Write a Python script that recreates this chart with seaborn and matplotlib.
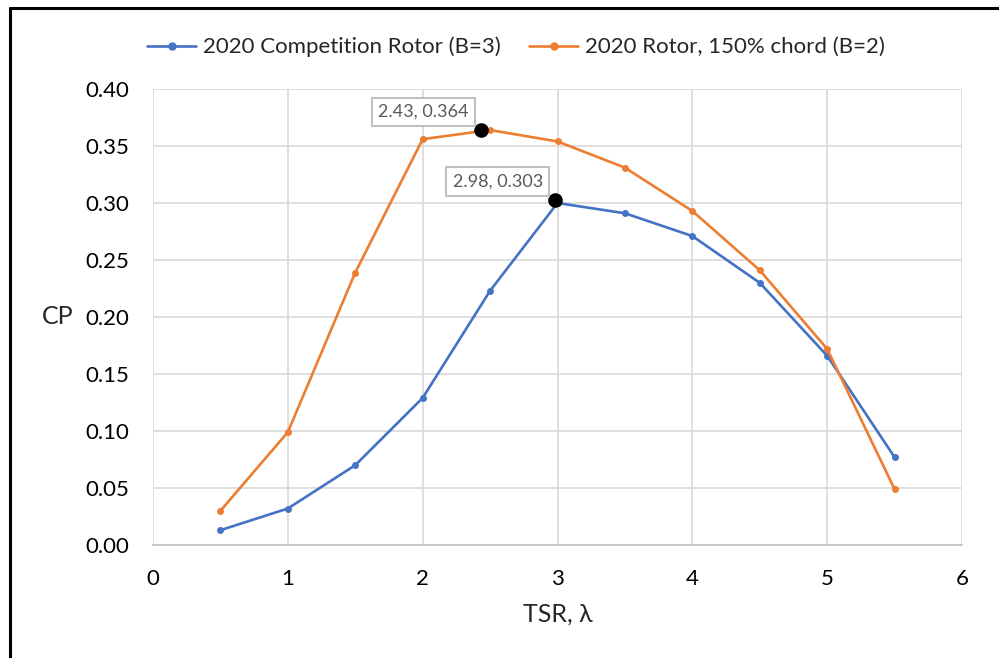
import matplotlib
matplotlib.use("Agg")
import matplotlib.pyplot as plt
import seaborn as sns
import pandas as pd
from matplotlib.lines import Line2D

tsr = [0.5, 1.0, 1.5, 2.0, 2.5, 3.0, 3.5, 4.0, 4.5, 5.0, 5.5]
cp_b3 = [0.013, 0.032, 0.070, 0.129, 0.223, 0.300, 0.291, 0.271, 0.230, 0.166, 0.077]
cp_b2 = [0.030, 0.099, 0.239, 0.356, 0.364, 0.354, 0.331, 0.293, 0.241, 0.172, 0.049]
series_names = ["2020 Competition Rotor (B=3)", "2020 Rotor, 150% chord (B=2)"]
colors = ["#4472C4", "#ED7D31"]
peak_x = [2.43, 2.98]
peak_y = [0.364, 0.303]
peak_labels = ["2.43, 0.364", "2.98, 0.303"]
xticks = [0, 1, 2, 3, 4, 5, 6]
yticks = [0.00, 0.05, 0.10, 0.15, 0.20, 0.25, 0.30, 0.35, 0.40]

sns.set_theme(style="white")
plt.rcParams['font.family'] = ['Lato', 'DejaVu Sans']

df = pd.DataFrame({
    "TSR": tsr * 2,
    "CP": cp_b3 + cp_b2,
    "Series": [series_names[0]] * len(tsr) + [series_names[1]] * len(tsr),
})

fig = plt.figure(figsize=(9.99, 6.58), dpi=100)
ax = fig.add_axes([153/999, 1-545/658, (962-153)/999, (545-89)/658])

sns.lineplot(data=df, x="TSR", y="CP", hue="Series", palette=colors,
             marker="o", markersize=5, markeredgewidth=0, linewidth=1.9,
             ax=ax, legend=False, sort=False)

ax.plot(peak_x, peak_y, "o", color="black", markersize=9.5, zorder=5)
for px, py, lab in zip(peak_x, peak_y, peak_labels):
    ax.annotate(lab, (px, py), xytext=(-12, 10), textcoords="offset pixels",
                ha="right", va="bottom", fontsize=13, color="#595959",
                bbox=dict(boxstyle="square,pad=0.35", fc="white", ec="#BFBFBF", lw=1.4),
                zorder=6)

ax.set_xlim(0, 6)
ax.set_ylim(0, 0.40)
ax.set_xticks(xticks)
ax.set_yticks(yticks)
ax.set_xticklabels([str(t) for t in xticks])
ax.set_yticklabels([f"{t:.2f}" for t in yticks])
ax.grid(True, color="#D9D9D9", linewidth=1.2)
ax.set_axisbelow(True)
for s in ["top", "right", "left"]:
    ax.spines[s].set_visible(False)
ax.spines["bottom"].set_color("#BFBFBF")
ax.spines["bottom"].set_linewidth(1.2)
ax.tick_params(axis="both", length=0, labelsize=16, colors="#000000")
ax.tick_params(axis="x", pad=17)
ax.tick_params(axis="y", pad=17)
ax.set_xlabel("TSR, λ", fontsize=18, labelpad=10)
ax.set_ylabel("CP", fontsize=18, rotation=0, va="center")
ax.yaxis.set_label_coords(-0.118, 0.5)

handles = [Line2D([], [], color=c, marker="o", markersize=5, linewidth=1.9) for c in colors]
fig.legend(handles, series_names, loc="center", bbox_to_anchor=(516/999, 1-47/658),
           ncol=2, frameon=False, fontsize=16, handlelength=2.2,
           handletextpad=0.3, columnspacing=1.3)

fig.add_artist(Line2D([10/999, 10/999], [0, 1-8/658], color="black", linewidth=2.2,
                      transform=fig.transFigure))
fig.add_artist(Line2D([10/999, 1], [1-8/658, 1-8/658], color="black", linewidth=2.2,
                      transform=fig.transFigure))

fig.savefig("out.png", dpi=100, facecolor="white")
